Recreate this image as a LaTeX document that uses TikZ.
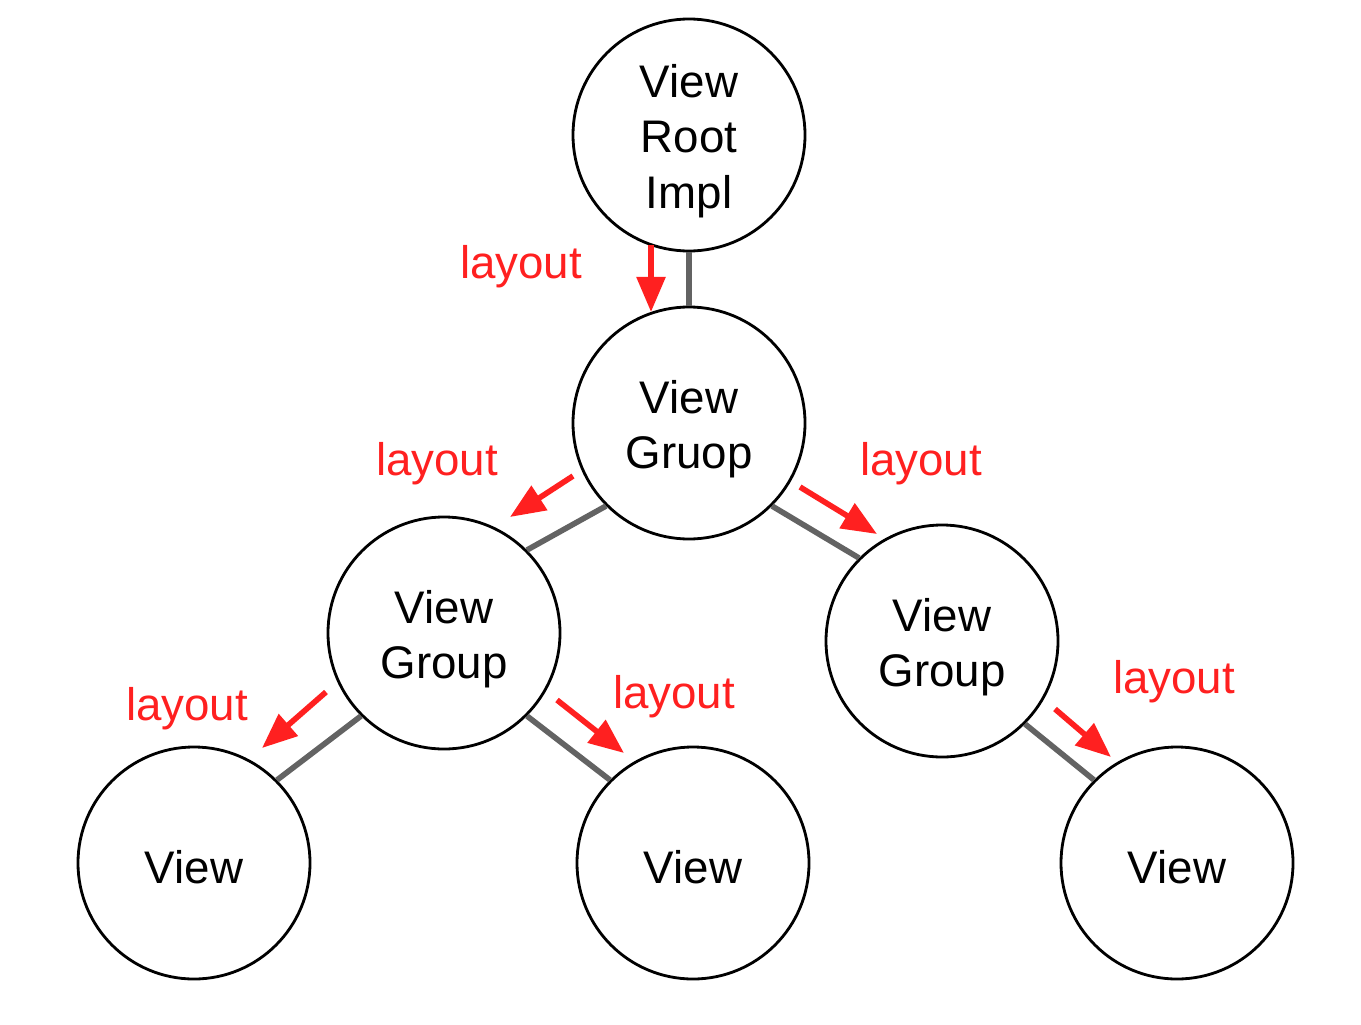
\documentclass[tikz,border=0pt]{standalone}
\usepackage{fontspec}
\setmainfont{Liberation Sans}
\usetikzlibrary{arrows.meta}
\definecolor{lred}{HTML}{FF2020}
\definecolor{lgray}{HTML}{636363}
\begin{document}
\begin{tikzpicture}[x=0.02cm,y=-0.02cm,
  vnode/.style={circle,draw=black,line width=1.6pt,minimum size=232*0.02cm,inner sep=0pt,align=center,font=\fontsize{26}{31.5}\selectfont},
  vtext/.style={align=center,inner sep=0pt,font=\fontsize{26}{31.5}\selectfont},
  link/.style={draw=lgray,line width=3.2pt},
  flow/.style={draw=lred,line width=3.2pt,-{Triangle[length=20pt,width=16pt]}},
  lbl/.style={text=lred,font=\fontsize{26}{31}\selectfont,inner sep=0pt}]
\useasboundingbox (0,0) rectangle (1361,1024);
\node[vnode] (root) at (689,135) {};
\node[vnode] (vg) at (689,423) {};
\node[vnode] (vgl) at (444,633) {};
\node[vnode] (vgr) at (942,641) {};
\node[vnode] (vl) at (194,863) {};
\node[vnode] (vm) at (693,863) {};
\node[vnode] (vr) at (1177,863) {};
\node[vtext] (troot) at (689,141) {View\\Root\\Impl};
\node[vtext] (tvg) at (689,429) {View\\Gruop};
\node[vtext] (tvgl) at (444,639) {View\\Group};
\node[vtext] (tvgr) at (942,647) {View\\Group};
\node[vtext] (tvl) at (194,867) {View};
\node[vtext] (tvm) at (693,867) {View};
\node[vtext] (tvr) at (1177,867) {View};
% gray links
\draw[link] (root) -- (vg);
\draw[link] (vg.225) -- (vgl.45);
\draw[link] (vg.315) -- (vgr.135);
\draw[link] (vgl.225) -- (vl.45);
\draw[link] (vgl.315) -- (vm.135);
\draw[link] (vgr.315) -- (vr.135);
% arrow endpoints
\coordinate (a1s) at (651,245); \coordinate (a1e) at (651,312);
\coordinate (a2s) at (573,476); \coordinate (a2e) at (510,517);
\coordinate (a3s) at (800,487); \coordinate (a3e) at (877,534);
\coordinate (a4s) at (326,692); \coordinate (a4e) at (262,748);
\coordinate (a5s) at (557,700); \coordinate (a5e) at (624,753);
\coordinate (a6s) at (1055,709); \coordinate (a6e) at (1111,757);
\draw[flow] (a1s) -- (a1e);
\draw[flow] (a2s) -- (a2e);
\draw[flow] (a3s) -- (a3e);
\draw[flow] (a4s) -- (a4e);
\draw[flow] (a5s) -- (a5e);
\draw[flow] (a6s) -- (a6e);
% labels
\node[lbl] (l1) at (521,267) {layout};
\node[lbl] (l2) at (437,464) {layout};
\node[lbl] (l3) at (921,464) {layout};
\node[lbl] (l4) at (187,709) {layout};
\node[lbl] (l5) at (674,697) {layout};
\node[lbl] (l6) at (1174,682) {layout};
\end{tikzpicture}
\end{document}
